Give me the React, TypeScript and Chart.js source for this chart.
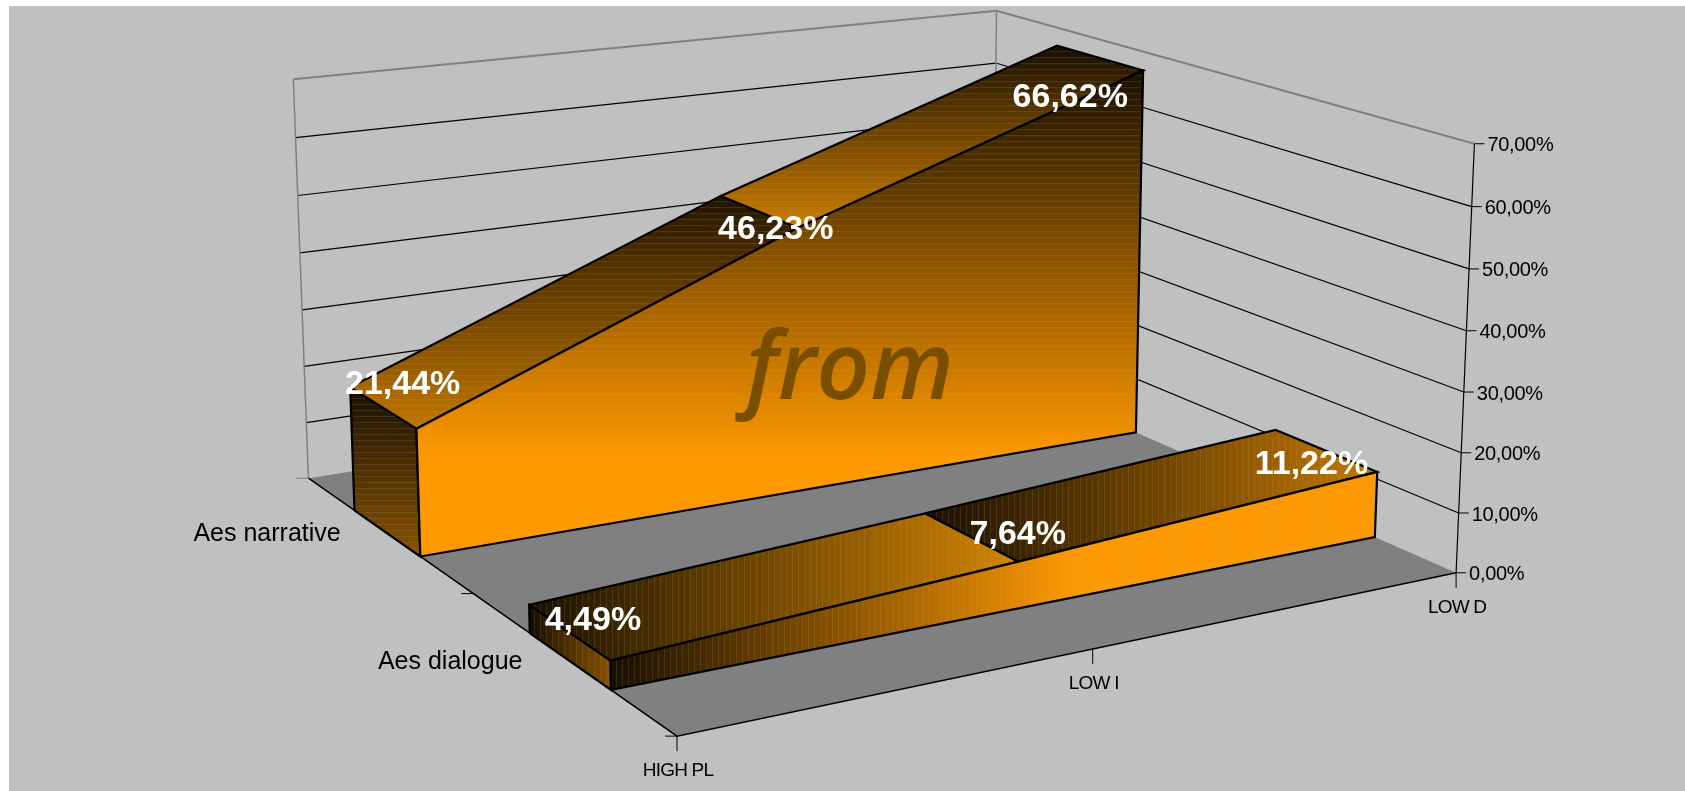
import React, { useEffect, useRef } from "react";
import { Chart, registerables } from "chart.js";

Chart.register(...registerables);

const categories = ["HIGH PL", "LOW I", "LOW D"];
const seriesNames = ["Aes narrative", "Aes dialogue"];
const narrative = [21.44, 46.23, 66.62];
const dialogue = [4.49, 7.64, 11.22];
const valueTicks = [0, 10, 20, 30, 40, 50, 60, 70];

const W = 1685;
const H = 791;
const S = 1685 / 1568;

// 3D view: floor corners and vertical vanishing point, in image space
const A = [630, 685];
const B = [1355, 533];
const C = [287, 445];
const D = [924, 344];
const VP = [791, 13767];
const HK = -0.0335 / 70;

const den = (B[0] - D[0]) * (C[1] - D[1]) - (B[1] - D[1]) * (C[0] - D[0]);
const sx = A[0] - B[0] + D[0] - C[0];
const sy = A[1] - B[1] + D[1] - C[1];
const g = (sx * (C[1] - D[1]) - sy * (C[0] - D[0])) / den;
const i0 = ((B[0] - D[0]) * sy - (B[1] - D[1]) * sx) / den;

function project(x: number, z: number, v: number) {
  const h = v * HK;
  const w = g * x + i0 * z + 1 + h;
  const px = (B[0] - A[0] + g * B[0]) * x + (C[0] - A[0] + i0 * C[0]) * z + A[0] + h * VP[0];
  const py = (B[1] - A[1] + g * B[1]) * x + (C[1] - A[1] + i0 * C[1]) * z + A[1] + h * VP[1];
  return { x: (px / w) * S, y: (py / w) * S };
}

const catX = (i: number) => i / (categories.length - 1);
const DARK = "#1A1000";
const ORANGE = "#FF9900";
const SERIES_Z = [
  [0.65, 0.85],
  [0.15, 0.35],
];

type Pt = { x: number; y: number };
type Stop = [number, string];

const rgb = (c: string) => [1, 3, 5].map((i) => parseInt(c.slice(i, i + 2), 16));

function sample(stops: Stop[], t: number) {
  let k = 0;
  while (k < stops.length - 2 && t > stops[k + 1][0]) k++;
  const [o0, c0] = stops[k];
  const [o1, c1] = stops[k + 1];
  const f = Math.min(1, Math.max(0, (t - o0) / (o1 - o0)));
  const a = rgb(c0);
  const b = rgb(c1);
  return a.map((v, j) => v + (b[j] - v) * f);
}

const css = (c: number[], lift = 0) =>
  `rgb(${c.map((v) => Math.round(v + (168 - v) * lift)).join(",")})`;

// shaded fill, with the fine lighter bands of the original's stepped gradient
function gradient(ctx: CanvasRenderingContext2D, pts: Pt[], dir: "v" | "h", stops: Stop[]) {
  const xs = pts.map((p) => p.x);
  const ys = pts.map((p) => p.y);
  const lo = dir === "v" ? Math.min(...ys) : Math.min(...xs);
  const hi = dir === "v" ? Math.max(...ys) : Math.max(...xs);
  const gr =
    dir === "v" ? ctx.createLinearGradient(0, lo, 0, hi) : ctx.createLinearGradient(lo, 0, hi, 0);
  const len = hi - lo;
  const step = 6;
  for (let p = 0; p + 1 < len; p += step) {
    const t0 = p / len;
    const t1 = (p + step - 1) / len;
    const t2 = Math.min(1, (p + step) / len);
    const col = sample(stops, t0);
    gr.addColorStop(t0, css(col));
    if (t1 < 1) gr.addColorStop(t1, css(col));
    if (t1 < 1) gr.addColorStop(t1, css(col, 0.16));
    gr.addColorStop(t2, css(col, 0.16));
  }
  return gr;
}

function lineSet(pts: Pt[], color: string, width: number) {
  return {
    data: pts,
    showLine: true,
    borderColor: color,
    borderWidth: width,
    pointRadius: 0,
    fill: false,
    tension: 0,
  };
}

function face(pts: Pt[], fillStyle: any, width = 2.2) {
  return {
    data: [...pts, pts[0]],
    showLine: true,
    borderColor: "#000000",
    borderWidth: width,
    borderJoinStyle: "miter",
    backgroundColor: fillStyle,
    pointRadius: 0,
    fill: "shape",
    tension: 0,
  };
}

function buildDatasets(ctx: CanvasRenderingContext2D) {
  const sets: any[] = [];
  // floor
  const floor = [project(0, 0, 0), project(1, 0, 0), project(1, 1, 0), project(0, 1, 0)];
  sets.push({ ...face(floor, "#808080", 0), borderWidth: 0 });
  // grid lines on the two walls
  valueTicks.slice(1).forEach((v) => {
    const top = v === valueTicks[valueTicks.length - 1];
    sets.push(lineSet([project(0, 1, v), project(1, 1, v), project(1, 0, v)], top ? "#808080" : "#000000", top ? 2 : 1.2));
  });
  sets.push(lineSet([project(0, 1, 0), project(0, 1, 70)], "#808080", 1.5));
  sets.push(lineSet([project(1, 1, 0), project(1, 1, 70)], "#808080", 1.5));
  // axes
  sets.push(lineSet([project(1, 0, 0), project(1, 0, 70)], "#000000", 1.2));
  sets.push(lineSet([project(0, 1, 0), project(0, 0, 0), project(1, 0, 0)], "#000000", 1.5));
  // area series
  const styles = [
    { dir: "v" as const, side: [[0, DARK], [1, "#8C5400"]], t1: [[0, "#241500"], [1, "#C47800"]], t2: [[0, DARK], [1, "#D08000"]], front: [[0, DARK], [0.79, ORANGE], [1, ORANGE]] },
    { dir: "h" as const, side: [[0, DARK], [1, "#8C5400"]], t1: [[0, DARK], [1, "#D48500"]], t2: [[0, DARK], [1, "#C47800"]], front: [[0, DARK], [0.6, ORANGE], [1, ORANGE]] },
  ];
  [narrative, dialogue].forEach((vals, s) => {
    const [z0, z1] = SERIES_Z[s];
    const st = styles[s];
    const side = [project(0, z1, 0), project(0, z0, 0), project(0, z0, vals[0]), project(0, z1, vals[0])];
    sets.push(face(side, gradient(ctx, side, st.dir, st.side as Stop[])));
    [st.t1, st.t2].forEach((stops, k) => {
      const top = [
        project(catX(k), z1, vals[k]),
        project(catX(k + 1), z1, vals[k + 1]),
        project(catX(k + 1), z0, vals[k + 1]),
        project(catX(k), z0, vals[k]),
      ];
      sets.push(face(top, gradient(ctx, top, st.dir, stops as Stop[])));
    });
    const front = [
      project(0, z0, 0),
      project(1, z0, 0),
      project(1, z0, vals[2]),
      project(0.5, z0, vals[1]),
      project(0, z0, vals[0]),
    ];
    sets.push(face(front, gradient(ctx, front, st.dir, st.front as Stop[])));
  });
  // lower-number order is drawn on top
  sets.forEach((d, i) => (d.order = sets.length - i));
  return sets;
}

const pct = (v: number) => v.toFixed(2).replace(".", ",") + "%";

function text(
  ctx: CanvasRenderingContext2D,
  s: string,
  x: number,
  y: number,
  font: string,
  color: string,
  align: CanvasTextAlign,
  spacing = "0px"
) {
  ctx.font = font;
  ctx.fillStyle = color;
  ctx.textAlign = align;
  ctx.textBaseline = "middle";
  (ctx as any).letterSpacing = spacing;
  ctx.fillText(s, x, y);
  (ctx as any).letterSpacing = "0px";
}

const backgroundPlugin = {
  id: "sheet",
  beforeDraw(chart: any) {
    const ctx = chart.ctx;
    ctx.save();
    ctx.fillStyle = "#C0C0C0";
    ctx.fillRect(9, 6, W - 9, H - 6);
    ctx.restore();
  },
};

const labelsPlugin = {
  id: "labels3d",
  afterDatasetsDraw(chart: any) {
    const ctx: CanvasRenderingContext2D = chart.ctx;
    const sxp = (v: number) => chart.scales.x.getPixelForValue(v);
    const syp = (v: number) => chart.scales.y.getPixelForValue(v);
    ctx.save();
    // value axis
    ctx.strokeStyle = "#000000";
    ctx.lineWidth = 1;
    valueTicks.forEach((v) => {
      const p = project(1, 0, v);
      ctx.beginPath();
      ctx.moveTo(sxp(p.x), syp(p.y));
      ctx.lineTo(sxp(p.x) + 10, syp(p.y));
      ctx.stroke();
      text(ctx, pct(v), sxp(p.x) + 13, syp(p.y) + 2, "20px 'Liberation Sans'", "#000000", "left", "-0.3px");
    });
    // category axis
    categories.forEach((c, i) => {
      const p = project(catX(i), 0, 0);
      ctx.beginPath();
      ctx.moveTo(sxp(p.x), syp(p.y));
      ctx.lineTo(sxp(p.x), syp(p.y) + 15);
      ctx.stroke();
      text(ctx, c, sxp(p.x) + 1, syp(p.y) + 35, "19px 'Liberation Sans'", "#000000", "center", "-0.8px");
    });
    // depth axis
    [0, 0.5, 1].forEach((z) => {
      const p = project(0, z, 0);
      ctx.strokeStyle = z === 1 ? "#808080" : "#000000";
      ctx.beginPath();
      ctx.moveTo(sxp(p.x), syp(p.y));
      ctx.lineTo(sxp(p.x) - 12, syp(p.y));
      ctx.stroke();
    });
    const seriesPos = [0.75, 0.25];
    const seriesOff = [[-46, 1], [-47, 1]];
    seriesNames.forEach((n, s) => {
      const p = project(0, seriesPos[s], 0);
      text(ctx, n, sxp(p.x) + seriesOff[s][0], syp(p.y) + seriesOff[s][1], "25px 'Liberation Sans'", "#000000", "right", "0px");
    });
    // watermark text on the large face
    const c = project(0.62, 0.65, 22);
    text(ctx, "from", sxp(c.x) - 34, syp(c.y) + 18, "italic 600 94px 'Open Sans'", "#7A4E00", "center", "0px");
    // data labels
    const offs = [
      [[20, -23], [17, 18], [-29, 40]],
      [[24, -12], [47, -2], [-14, 14]],
    ];
    [narrative, dialogue].forEach((vals, s) => {
      const zm = (SERIES_Z[s][0] + SERIES_Z[s][1]) / 2;
      vals.forEach((v, k) => {
        const p = project(catX(k), zm, v);
        text(ctx, pct(v), sxp(p.x) + offs[s][k][0], syp(p.y) + offs[s][k][1], "bold 34px 'Liberation Sans'", "#FFFFFF", "center", "0px");
      });
    });
    ctx.restore();
  },
};

export default function App() {
  const ref = useRef<HTMLCanvasElement | null>(null);
  useEffect(() => {
    const canvas = ref.current!;
    const ctx = canvas.getContext("2d")!;
    const chart = new Chart(canvas, {
      type: "scatter",
      data: { datasets: buildDatasets(ctx) },
      options: {
        animation: false,
        responsive: false,
        layout: { padding: 0 },
        clip: false,
        plugins: { legend: { display: false }, tooltip: { enabled: false } },
        scales: {
          x: { type: "linear", min: 0, max: W, display: false },
          y: { type: "linear", min: 0, max: H, reverse: true, display: false },
        },
      },
      plugins: [backgroundPlugin, labelsPlugin],
    } as any);
    return () => chart.destroy();
  }, []);
  return (
    <canvas
      ref={ref}
      width={W}
      height={H}
      style={{ position: "fixed", left: 0, top: 0, width: W, height: H, display: "block" }}
    />
  );
}
